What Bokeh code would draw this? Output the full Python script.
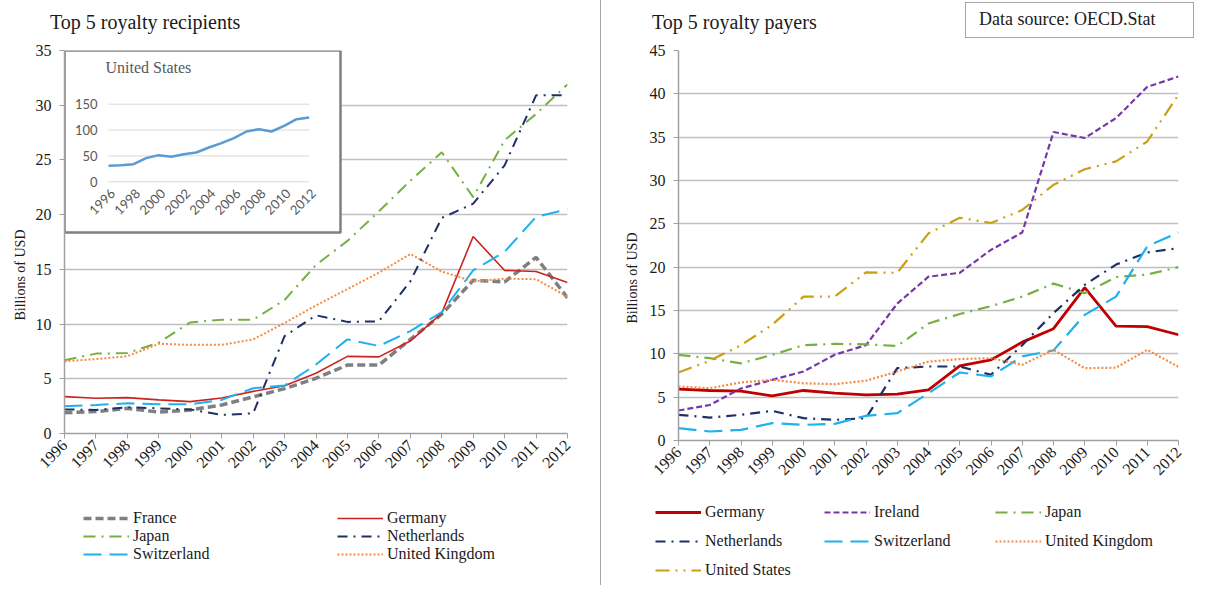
import math
from bokeh.plotting import figure
from bokeh.models import Range1d, FixedTicker, Label, Legend, LegendItem, Div, Title
from bokeh.layouts import column, row
from bokeh.embed import file_html
from bokeh.resources import INLINE
from bokeh.core.properties import value

# ---------------- data ----------------
years = list(range(1996, 2013))

rec_france = [1.9, 2.0, 2.3, 1.95, 2.15, 2.6, 3.35, 4.1, 5.05, 6.25, 6.25, 8.6, 10.9, 14.0, 13.85, 16.1, 12.4]
rec_germany = [3.37, 3.22, 3.28, 3.07, 2.91, 3.25, 3.85, 4.36, 5.5, 7.05, 7.0, 8.45, 11.0, 18.0, 14.9, 14.8, 13.8]
rec_japan = [6.7, 7.3, 7.35, 8.3, 10.15, 10.4, 10.4, 12.2, 15.4, 17.6, 20.3, 23.1, 25.7, 21.6, 26.8, 29.2, 31.9]
rec_netherlands = [2.2, 2.15, 2.4, 2.3, 2.2, 1.7, 1.84, 8.9, 10.8, 10.2, 10.25, 13.9, 19.7, 21.0, 24.5, 30.9, 30.9]
rec_switzerland = [2.5, 2.6, 2.76, 2.67, 2.67, 3.07, 4.14, 4.39, 6.3, 8.6, 8.0, 9.35, 11.1, 14.9, 16.6, 19.8, 20.5]
rec_uk = [6.6, 6.8, 7.06, 8.2, 8.1, 8.1, 8.6, 10.1, 11.7, 13.2, 14.7, 16.4, 14.8, 13.9, 14.15, 14.1, 12.5]

us_recipient = [31, 32, 34, 45.7, 51.5, 48.3, 53.4, 56.7, 66.3, 74.7, 84.4, 97.2, 101.7, 97.2, 108, 121, 124.3]
inset_yticks = [0, 50, 100, 150]
inset_xticks = years[::2]

pay_germany = [5.92, 5.77, 5.7, 5.15, 5.77, 5.46, 5.27, 5.35, 5.85, 8.6, 9.3, 11.35, 12.9, 17.65, 13.2, 13.15, 12.2]
pay_ireland = [3.46, 4.1, 6.0, 7.0, 7.96, 9.9, 11.0, 15.8, 18.9, 19.35, 22.0, 24.0, 35.6, 34.9, 37.2, 40.8, 42.0]
pay_japan = [9.88, 9.5, 8.9, 9.88, 11.0, 11.15, 11.1, 10.9, 13.5, 14.6, 15.5, 16.6, 18.1, 17.0, 18.85, 19.15, 20.0]
pay_netherlands = [2.96, 2.65, 2.96, 3.42, 2.58, 2.38, 2.58, 8.35, 8.54, 8.54, 7.58, 11.0, 14.7, 17.96, 20.3, 21.7, 22.2]
pay_switzerland = [1.42, 1.04, 1.23, 2.0, 1.8, 1.92, 2.85, 3.15, 5.46, 7.85, 7.4, 9.7, 10.4, 14.5, 16.6, 22.4, 24.0]
pay_uk = [6.23, 6.04, 6.7, 7.0, 6.6, 6.5, 6.9, 7.96, 9.1, 9.4, 9.5, 8.73, 10.46, 8.35, 8.4, 10.46, 8.5]
pay_us = [7.85, 9.2, 11.0, 13.35, 16.6, 16.6, 19.4, 19.35, 23.9, 25.7, 25.1, 26.6, 29.5, 31.3, 32.2, 34.5, 39.9]

left_ticks = list(range(0, 36, 5))
right_ticks = list(range(0, 46, 5))

left_title = "Top 5 royalty recipients"
right_title = "Top 5 royalty payers"
source_text = "Data source: OECD.Stat"
y_title = "Billions  of USD"
inset_title = "United States"

# ---------------- style ----------------
SERIF = "Liberation Serif"
TXT = "#1a1a1a"
GRID = "#BFBFBF"
AXIS = "#A0A0A0"
HEAD_H = 38
TOP_B = 12
BOT_B = 50

ST_L = {
    "France": dict(line_color="#7F7F7F", line_width=3.5, line_dash="8 4"),
    "Germany": dict(line_color="#CC2222", line_width=1.6),
    "Japan": dict(line_color="#76B043", line_width=2, line_dash="12 6 2 6"),
    "Netherlands": dict(line_color="#1F2F66", line_width=2, line_dash="10 6 2 6"),
    "Switzerland": dict(line_color="#1EB1EE", line_width=2, line_dash="18 8"),
    "United Kingdom": dict(line_color="#F58A42", line_width=2, line_dash="2 2"),
}
ST_R = {
    "Germany": dict(line_color="#C00000", line_width=2.8),
    "Ireland": dict(line_color="#7638A8", line_width=2.2, line_dash="6 3"),
    "Japan": dict(line_color="#76B043", line_width=2.2, line_dash="12 6 2 6"),
    "Netherlands": dict(line_color="#1F2F66", line_width=2.2, line_dash="10 6 2 6"),
    "Switzerland": dict(line_color="#1EB1EE", line_width=2.2, line_dash="18 8"),
    "United Kingdom": dict(line_color="#F58A42", line_width=2.2, line_dash="2 2"),
    "United States": dict(line_color="#C9A014", line_width=2.2, line_dash="14 6 2 6 2 6"),
}


def base_fig(ymax, ticks, fw, fh, bl, br, ylab_offset, ylab_standoff):
    p = figure(frame_width=fw, frame_height=fh, x_range=Range1d(1996, 2012),
               y_range=Range1d(0, ymax), output_backend="svg", toolbar_location=None,
               title=None, min_border_left=bl, min_border_right=br,
               min_border_top=TOP_B, min_border_bottom=BOT_B)
    p.frame_align = False
    p.outline_line_color = None
    p.xgrid.grid_line_color = None
    p.ygrid.grid_line_color = GRID
    p.ygrid.grid_line_width = 1.5
    p.yaxis.ticker = FixedTicker(ticks=ticks)
    p.xaxis.ticker = FixedTicker(ticks=years)
    p.xaxis.major_label_orientation = math.pi / 4
    for ax in (p.xaxis, p.yaxis):
        ax.axis_line_color = AXIS
        ax.axis_line_width = 1.5
        ax.major_tick_line_color = AXIS
        ax.major_tick_in = 0
        ax.major_tick_out = 5
        ax.minor_tick_line_color = None
        ax.major_label_text_font = SERIF
        ax.major_label_text_color = TXT
        ax.major_label_text_font_size = "16px"
    p.yaxis.major_label_standoff = 8
    p.xaxis.major_label_standoff = 4
    # y-axis title: a side title placed along the left edge
    p.add_layout(Title(text=y_title, align="left", offset=ylab_offset,
                       standoff=ylab_standoff, text_font=SERIF, text_font_size="14px",
                       text_font_style="normal", text_color=TXT), "left")
    return p


def legend_fig(width, height, styles, series, columns):
    """Legend-only canvas: the series are drawn outside its (0..1) view, so only the
    legend entries are visible. columns: list of (x_px, y_px_from_bottom, spacing, [names])"""
    lf = figure(width=width, height=height, x_range=Range1d(0, 1), y_range=Range1d(0, 1),
                output_backend="svg", toolbar_location=None, title=None,
                x_axis_location=None, y_axis_location=None, min_border=0)
    lf.frame_align = False
    lf.grid.visible = False
    lf.outline_line_color = None
    rends = {n: lf.line(years, vals, **styles[n]) for n, vals in series}
    for x, y, spacing, names in columns:
        items = [LegendItem(label=n, renderers=[rends[n]]) for n in names]
        lf.add_layout(Legend(items=items, location=(x, y), orientation="vertical",
                             glyph_width=46, glyph_height=18, label_height=18,
                             label_standoff=4, spacing=spacing, padding=0, margin=0,
                             border_line_color=None, background_fill_alpha=0,
                             label_text_font=SERIF, label_text_font_size="16px",
                             label_text_color=TXT))
    return lf


def header(width, inner):
    html = ('<div style="position:relative;width:%dpx;height:%dpx;'
            'font-family:\'Liberation Serif\',serif;color:%s">%s</div>') % (width, HEAD_H, TXT, inner)
    return Div(text=html, width=width, height=HEAD_H, margin=0)


# ================= LEFT: recipients =================
LW = 600
LFW, LFH = 503, 383
pl = base_fig(35, left_ticks, LFW, LFH, 64, 33, 113, 9)

rec_series = [("France", rec_france), ("Germany", rec_germany), ("Japan", rec_japan),
              ("Netherlands", rec_netherlands), ("Switzerland", rec_switzerland),
              ("United Kingdom", rec_uk)]
for name, vals in rec_series:
    pl.line(years, vals, **ST_L[name])

# inset (United States) drawn on its own extra ranges, placed by pixel layout
IX0_PX, IX1_PX = 44.0, 244.7        # px from frame left where 1996 / 2012 fall
IY0_PX, IY1_PX = 251.7, 329.3       # px from frame bottom where 0 / 150 fall
ppx = (IX1_PX - IX0_PX) / (years[-1] - years[0])
ppy = (IY1_PX - IY0_PX) / (inset_yticks[-1] - inset_yticks[0])
ix0 = years[0] - IX0_PX / ppx
iy0 = inset_yticks[0] - IY0_PX / ppy
pl.extra_x_ranges = {"ix": Range1d(ix0, ix0 + LFW / ppx)}
pl.extra_y_ranges = {"iy": Range1d(iy0, iy0 + LFH / ppy)}

BOX_R_PX, BOX_B_PX = 276.0, 201.0
pl.quad(left=[ix0], right=[ix0 + BOX_R_PX / ppx], top=[iy0 + LFH / ppy],
        bottom=[iy0 + BOX_B_PX / ppy], x_range_name="ix", y_range_name="iy",
        fill_color="white", line_color="#7F7F7F", line_width=2.5)
pl.segment(x0=[years[0]] * len(inset_yticks), x1=[years[-1]] * len(inset_yticks),
           y0=inset_yticks, y1=inset_yticks, x_range_name="ix", y_range_name="iy",
           line_color="#D9D9D9", line_width=1)
pl.line(years, us_recipient, x_range_name="ix", y_range_name="iy",
        line_color="#5B9BD5", line_width=2.5)
pl.text(x=[years[0]] * len(inset_yticks), y=inset_yticks, text=[str(t) for t in inset_yticks],
        x_range_name="ix", y_range_name="iy", x_offset=-11, text_align="right",
        text_baseline="middle", text_font=value("Lato"), text_font_size="13px",
        text_color="#595959")
pl.text(x=inset_xticks, y=[0] * len(inset_xticks), text=[str(t) for t in inset_xticks],
        x_range_name="ix", y_range_name="iy", x_offset=4, y_offset=9, angle=math.pi / 4,
        text_align="right", text_baseline="middle", text_font=value("Lato"),
        text_font_size="13px", text_color="#595959")
pl.add_layout(Label(x=41, y=366, x_units="screen", y_units="screen", text=inset_title,
                    text_font=SERIF, text_font_size="16px", text_color="#595959",
                    text_baseline="middle"))

LEG_LH = 585 - HEAD_H - (TOP_B + LFH + BOT_B)
leg_l = legend_fig(LW, LEG_LH, ST_L, rec_series, [
    (83, 22, 0, ["France", "Japan", "Switzerland"]),
    (337, 22, 0, ["Germany", "Netherlands", "United Kingdom"]),
])

# ================= RIGHT: payers =================
RW = 594
RFW, RFH = 500, 390
pr = base_fig(45, right_ticks, RFW, RFH, 77, RW - 77 - RFW, 117, 14)

pay_series = [("Germany", pay_germany), ("Ireland", pay_ireland), ("Japan", pay_japan),
              ("Netherlands", pay_netherlands), ("Switzerland", pay_switzerland),
              ("United Kingdom", pay_uk), ("United States", pay_us)]
for name, vals in pay_series:
    pr.line(years, vals, **ST_R[name])

LEG_RH = 585 - HEAD_H - (TOP_B + RFH + BOT_B)
leg_r = legend_fig(RW, LEG_RH, ST_R, pay_series, [
    (54, 6, 11, ["Germany", "Netherlands", "United States"]),
    (223, 35, 11, ["Ireland", "Switzerland"]),
    (394, 35, 11, ["Japan", "United Kingdom"]),
])

# ---------------- headers ----------------
head_l = header(LW, '<span style="position:absolute;left:50px;top:10px;font-size:20px;'
                    'line-height:24px;white-space:nowrap">%s</span>' % left_title)
head_r = header(RW, '<span style="position:absolute;left:51px;top:10px;font-size:20px;'
                    'line-height:24px;white-space:nowrap">%s</span>'
                    '<div style="position:absolute;left:364px;top:2px;width:229px;height:36px;'
                    'box-sizing:border-box;border:1.5px solid #A6A6A6;font-size:18px;'
                    'line-height:33px;padding-left:13px;white-space:nowrap">%s</div>'
                % (right_title, source_text))

col_l = column(head_l, pl, leg_l, spacing=0)
col_r = column(head_r, pr, leg_r, spacing=0, styles={"border-left": "1.5px solid #A6A6A6"})
layout = row(col_l, col_r, spacing=0)
open("out.html", "w").write(file_html(layout, INLINE))
